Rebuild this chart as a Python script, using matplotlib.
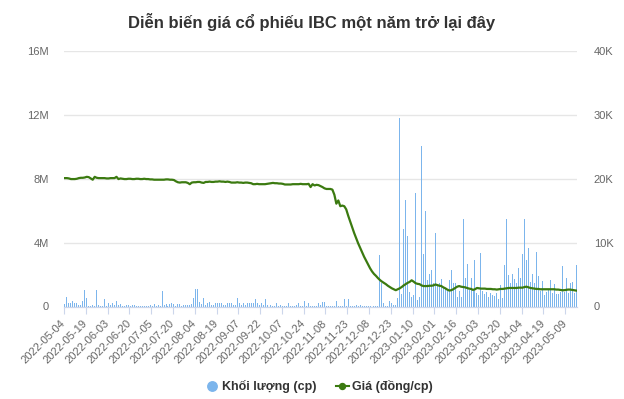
import matplotlib
matplotlib.use("Agg")
import matplotlib.pyplot as plt
from matplotlib.lines import Line2D
import numpy as np

plt.rcParams['font.family'] = ['Liberation Sans', 'DejaVu Sans']

title = "Diễn biến giá cổ phiếu IBC một năm trở lại đây"

# Volume (millions of shares), one value per trading session
volume_m = [
    0.17, 0.60, 0.23, 0.23, 0.35, 0.19, 0.19, 0.12, 0.12, 0.35,
    1.04, 0.54, 0.06, 0.06, 0.10, 0.06, 1.04, 0.12, 0.06, 0.06,
    0.48, 0.06, 0.23, 0.12, 0.23, 0.10, 0.35, 0.12, 0.17, 0.06,
    0.06, 0.08, 0.12, 0.06, 0.12, 0.12, 0.06, 0.06, 0.06, 0.06,
    0.06, 0.06, 0.06, 0.12, 0.06, 0.17, 0.06, 0.12, 0.06, 0.98,
    0.10, 0.17, 0.06, 0.17, 0.23, 0.17, 0.06, 0.17, 0.17, 0.06,
    0.12, 0.12, 0.12, 0.12, 0.17, 0.54, 1.10, 1.10, 0.29, 0.17,
    0.54, 0.12, 0.19, 0.29, 0.12, 0.12, 0.19, 0.19, 0.19, 0.19,
    0.12, 0.12, 0.19, 0.19, 0.19, 0.12, 0.12, 0.54, 0.19, 0.12,
    0.19, 0.12, 0.19, 0.19, 0.23, 0.19, 0.48, 0.19, 0.12, 0.19,
    0.12, 0.48, 0.12, 0.12, 0.12, 0.06, 0.06, 0.23, 0.06, 0.12,
    0.06, 0.06, 0.02, 0.19, 0.06, 0.06, 0.02, 0.12, 0.19, 0.02,
    0.06, 0.35, 0.06, 0.19, 0.02, 0.02, 0.06, 0.06, 0.19, 0.12,
    0.29, 0.29, 0.06, 0.02, 0.06, 0.06, 0.06, 0.37, 0.02, 0.02,
    0.02, 0.50, 0.02, 0.46, 0.02, 0.02, 0.02, 0.12, 0.02, 0.08,
    0.02, 0.02, 0.02, 0.02, 0.02, 0.02, 0.02, 0.02, 0.02, 3.22,
    1.46, 0.21, 0.02, 0.02, 0.33, 0.21, 0.12, 0.12, 0.52, 11.80,
    0.79, 4.83, 6.64, 4.43, 0.90, 0.58, 0.75, 7.13, 0.42, 0.58,
    10.07, 3.27, 5.95, 1.64, 2.02, 2.27, 1.46, 4.58, 1.35, 1.46,
    1.70, 1.25, 1.14, 1.04, 1.64, 2.27, 1.50, 1.46, 0.58, 0.96,
    0.58, 5.51, 1.77, 2.64, 1.04, 1.77, 0.96, 2.89, 0.83, 0.71,
    3.33, 0.96, 0.79, 0.90, 0.58, 0.83, 0.71, 0.64, 0.83, 0.46,
    1.33, 0.52, 2.58, 5.51, 1.96, 1.46, 2.02, 1.70, 1.46, 2.39,
    1.77, 3.27, 5.51, 2.89, 3.64, 1.52, 2.02, 1.46, 3.39, 1.89,
    0.96, 1.58, 0.71, 0.90, 1.08, 1.64, 0.83, 1.39, 0.77, 0.77,
    0.90, 2.52, 0.90, 1.77, 0.83, 1.46, 1.52, 0.83, 2.58,
]

# Price (thousand VND per share), one value per trading session
price_k = [
    20.1, 20.1, 20.05, 19.95, 19.95, 19.95, 20.0, 20.1, 20.15, 20.15,
    20.2, 20.3, 20.25, 20.05, 19.85, 20.3, 20.15, 20.1, 20.1, 20.1,
    20.1, 20.05, 20.05, 20.1, 20.1, 20.1, 20.3, 19.95, 20.05, 20.0,
    19.95, 19.95, 20.0, 20.0, 19.95, 19.95, 20.0, 20.0, 19.95, 19.95,
    20.0, 19.95, 19.95, 19.9, 19.9, 19.85, 19.85, 19.85, 19.85, 19.85,
    19.85, 19.9, 19.9, 19.85, 19.85, 19.8, 19.6, 19.45, 19.4, 19.45,
    19.45, 19.45, 19.35, 19.15, 19.4, 19.45, 19.45, 19.5, 19.5, 19.4,
    19.35, 19.5, 19.5, 19.55, 19.5, 19.5, 19.55, 19.55, 19.6, 19.55,
    19.55, 19.5, 19.55, 19.5, 19.4, 19.4, 19.4, 19.45, 19.4, 19.4,
    19.35, 19.4, 19.4, 19.35, 19.3, 19.15, 19.15, 19.2, 19.15, 19.15,
    19.15, 19.15, 19.2, 19.25, 19.3, 19.35, 19.3, 19.3, 19.25, 19.25,
    19.2, 19.1, 19.1, 19.1, 19.1, 19.15, 19.15, 19.15, 19.15, 19.2,
    19.15, 19.15, 19.15, 19.2, 18.7, 19.15, 18.95, 19.05, 19.0, 18.85,
    18.7, 18.5, 18.4, 18.4, 18.4, 18.3, 17.5, 16.1, 16.6, 15.7,
    15.8, 15.7, 15.2, 14.2, 13.3, 12.4, 11.5, 10.7, 9.9, 9.2,
    8.5, 7.8, 7.2, 6.6, 6.0, 5.5, 5.1, 4.8, 4.45, 4.15,
    3.9, 3.7, 3.5, 3.25, 3.05, 2.85, 2.7, 2.55, 2.7, 2.85,
    3.05, 3.3, 3.5, 3.7, 3.85, 4.1, 3.9, 3.65, 3.55, 3.5,
    3.3, 3.2, 3.2, 3.2, 3.25, 3.25, 3.3, 3.45, 3.35, 3.25,
    3.2, 3.0, 2.85, 2.65, 2.5, 2.55, 2.7, 2.9, 3.1, 3.2,
    3.1, 3.05, 3.0, 2.9, 2.8, 2.75, 2.6, 2.7, 2.9, 2.85,
    2.8, 2.8, 2.8, 2.75, 2.75, 2.75, 2.7, 2.7, 2.65, 2.7,
    2.75, 2.75, 2.8, 2.85, 2.9, 2.9, 2.9, 2.9, 2.9, 2.95,
    2.95, 2.95, 3.05, 3.1, 3.0, 2.9, 2.85, 2.8, 2.75, 2.75,
    2.7, 2.7, 2.7, 2.7, 2.7, 2.7, 2.7, 2.7, 2.65, 2.65,
    2.6, 2.55, 2.55, 2.6, 2.65, 2.65, 2.6, 2.55, 2.5,
]

date_labels = [
    "2022-05-04", "2022-05-19", "2022-06-03", "2022-06-20", "2022-07-05",
    "2022-07-20", "2022-08-04", "2022-08-19", "2022-09-07", "2022-09-22",
    "2022-10-07", "2022-10-24", "2022-11-08", "2022-11-23", "2022-12-08",
    "2022-12-23", "2023-01-10", "2023-02-01", "2023-02-16", "2023-03-03",
    "2023-03-20", "2023-04-04", "2023-04-19", "2023-05-09",
]
label_step = 11

vol_ticks = [0, 4, 8, 12, 16]
vol_tick_labels = ["0", "4M", "8M", "12M", "16M"]
price_ticks = [0, 10, 20, 30, 40]
price_tick_labels = ["0", "10K", "20K", "30K", "40K"]

legend_labels = ["Khối lượng (cp)", "Giá (đồng/cp)"]

BAR_COLOR = "#7cb5ec"
LINE_COLOR = "#3b7a10"
GRID = "#e6e6e6"
AXIS = "#ccd6eb"
TEXT = "#666666"
TITLE = "#333333"

n = len(volume_m)
x = np.arange(n)

fig = plt.figure(figsize=(6.24, 3.99), dpi=100)
ax = fig.add_axes([64/624, 1 - 306.5/399, (577-64)/624, (306.5-51)/399])
ax2 = ax.twinx()

ax.bar(x, volume_m, width=0.5, color=BAR_COLOR, zorder=2, linewidth=0,
       antialiased=False)
ax2.plot(x, price_k, color=LINE_COLOR, lw=1.6, zorder=3, solid_joinstyle='round')

ax.set_xlim(-0.5, n - 0.5)
ax.set_ylim(0, 16)
ax2.set_ylim(0, 40)

ax.set_yticks(vol_ticks)
ax.set_yticklabels(vol_tick_labels)
ax2.set_yticks(price_ticks)
ax2.set_yticklabels(price_tick_labels)
ax.yaxis.grid(True, color=GRID, lw=1)
ax.set_axisbelow(True)

for a in (ax, ax2):
    for s in ("top", "left", "right"):
        a.spines[s].set_visible(False)
    a.spines["bottom"].set_color(AXIS)
ax.tick_params(axis='y', length=0, labelsize=8, labelcolor=TEXT, pad=11)
ax2.tick_params(axis='y', length=0, labelsize=8, labelcolor=TEXT, pad=12)

tick_pos = [i * label_step - 0.5 for i in range(len(date_labels))]
ax.set_xticks(tick_pos)
ax.set_xticklabels(date_labels, rotation=45, ha='right', va='center',
                   rotation_mode='anchor', fontsize=8, color=TEXT)
ax.tick_params(axis='x', length=5, color=AXIS, pad=6)

fig.text(0.5, 1 - 22/399, title, ha='center', va='center',
         fontsize=12, fontweight='bold', color=TITLE)

handles = [
    Line2D([], [], marker='o', ls='none', color=BAR_COLOR, markersize=6.8),
    Line2D([], [], marker='o', color=LINE_COLOR, lw=1.5, markersize=4.3),
]
leg = fig.legend(handles, legend_labels, loc='center left', ncol=2,
                 bbox_to_anchor=(205.5/624, 1 - 386.7/399), frameon=False,
                 prop={'weight': 'bold', 'size': 9}, handlelength=1.05,
                 columnspacing=1.5, handletextpad=0.3, borderpad=0,
                 borderaxespad=0)
for t in leg.get_texts():
    t.set_color(TITLE)

fig.savefig("out.png", dpi=100)
